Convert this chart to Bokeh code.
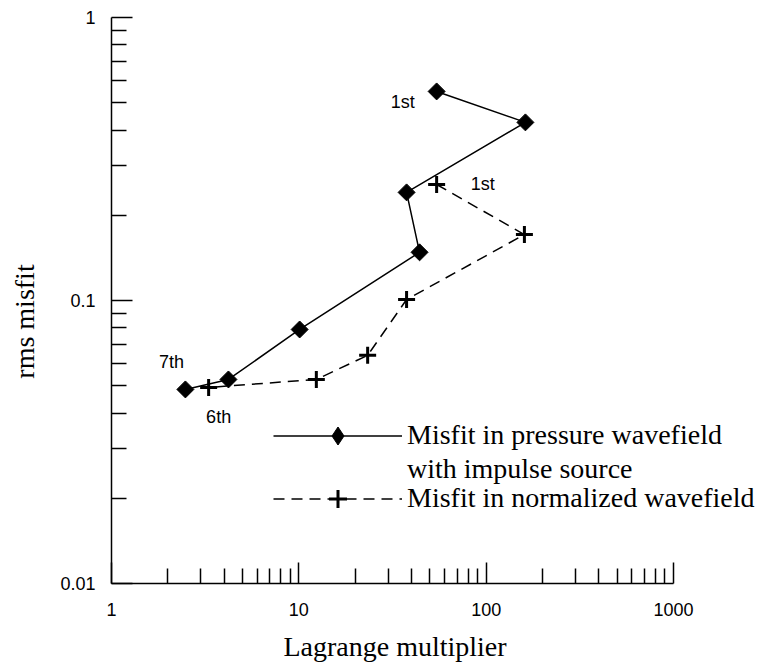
import math
from bokeh.plotting import figure
from bokeh.models import Range1d, FixedTicker, CustomJSTickFormatter, Legend, LegendItem, Label
from bokeh.embed import file_html
from bokeh.resources import INLINE

# Data
lam_pressure = [54.4, 162, 37.6, 44.1, 10.1, 4.21, 2.48]
misfit_pressure = [0.548, 0.426, 0.241, 0.148, 0.079, 0.0526, 0.0485]
lam_norm = [54.4, 160, 37.6, 23.3, 12.4, 3.3]
misfit_norm = [0.257, 0.171, 0.1008, 0.064, 0.0526, 0.0493]

x_major = [1, 10, 100, 1000]
x_minor = [m * d for d in (1, 10, 100) for m in range(2, 10)]
y_major = [0.01, 0.1, 1]
y_minor = [m * d for d in (0.01, 0.1) for m in range(2, 10)]

label_pressure_1 = "Misfit in pressure wavefield"
label_pressure_2 = "with impulse source"
label_norm = "Misfit in normalized wavefield"
x_title = "Lagrange multiplier"
y_title = "rms misfit"

NB = "\u00a0"

# layout: axis spans 562 px for 3 decades; frame extends further right to hold the legend
axis_px = 562
extra_px = 89
x_max = 1000 * 10 ** (extra_px / (axis_px / 3))

p = figure(x_axis_type="log", y_axis_type="log",
           x_range=Range1d(1, x_max), y_range=Range1d(0.01, 1),
           frame_width=axis_px + extra_px, frame_height=566,
           min_border_left=111, min_border_top=17, min_border_right=0, min_border_bottom=80,
           output_backend="svg", toolbar_location=None)
p.outline_line_color = None
p.grid.visible = False

fmt = CustomJSTickFormatter(code="return tick.toString();")
p.xaxis.ticker = FixedTicker(ticks=x_major, minor_ticks=x_minor)
p.yaxis.ticker = FixedTicker(ticks=y_major, minor_ticks=y_minor)
p.xaxis.bounds = (1, 1000)
for ax in (p.xaxis[0], p.yaxis[0]):
    ax.formatter = fmt
    ax.major_tick_in = 21
    ax.major_tick_out = 0
    ax.minor_tick_in = 15
    ax.minor_tick_out = 0
    ax.axis_line_width = 1.5
    ax.major_tick_line_width = 1.5
    ax.minor_tick_line_width = 1.5
    ax.axis_line_color = "black"
    ax.major_tick_line_color = "black"
    ax.minor_tick_line_color = "black"
    ax.major_label_text_font = "Liberation Sans"
    ax.major_label_text_font_size = "18px"
    ax.major_label_text_color = "black"
    ax.axis_label_text_font = "Liberation Serif"
    ax.axis_label_text_font_size = "28px"
    ax.axis_label_text_font_style = "normal"
    ax.axis_label_text_color = "black"

# padding with no-break spaces shifts the centred titles to where the reference has them
p.xaxis.axis_label = x_title + NB * 12
p.yaxis.axis_label = y_title + NB * 6
p.xaxis.major_label_standoff = 19
p.yaxis.major_label_standoff = 16
p.xaxis.axis_label_standoff = 12
p.yaxis.axis_label_standoff = 17

l1 = p.line(lam_pressure, misfit_pressure, line_color="black", line_width=1.5)
s1 = p.scatter(lam_pressure, misfit_pressure, marker="square", angle=math.pi / 4,
               size=12, fill_color="black", line_color="black")
l2 = p.line(lam_norm, misfit_norm, line_color="black", line_width=1.5, line_dash="11 7")
s2 = p.scatter(lam_norm, misfit_norm, marker="cross", size=17,
               line_color="black", line_width=3)
# legend-only glyphs (drawn at zero size in the plot)
leg_diamond = p.scatter(lam_pressure, misfit_pressure, marker="diamond", size=0,
                        fill_color="black", line_color="black")
dummy = p.line(lam_pressure, misfit_pressure, line_alpha=0)

common = dict(glyph_width=129, glyph_height=45, label_height=30,
              spacing=0, padding=0, margin=0, label_standoff=5,
              border_line_color=None, background_fill_alpha=0,
              label_text_font="Liberation Serif", label_text_font_size="28px",
              label_text_color="black")
frame_bottom = 583
def row_y(center):
    return frame_bottom - (center + 22.5)

p.add_layout(Legend(items=[LegendItem(label=label_pressure_1, renderers=[l1, leg_diamond])],
                    location=(162, row_y(435)), **common))
p.add_layout(Legend(items=[LegendItem(label=label_pressure_2, renderers=[dummy])],
                    location=(162, row_y(469)), **common))
p.add_layout(Legend(items=[LegendItem(label=label_norm, renderers=[l2, s2])],
                    location=(162, row_y(498)), **common))

lab_font = "Liberation Sans"
def add_label(x, y, text, dx, dy):
    p.add_layout(Label(x=x, y=y, text=text, x_offset=dx, y_offset=dy,
                       text_align="center", text_baseline="middle",
                       text_font=lab_font, text_font_size="18px", text_color="black"))

add_label(lam_pressure[0], misfit_pressure[0], "1st", -34, -11)
add_label(lam_norm[0], misfit_norm[0], "1st", 46, 0)
add_label(lam_pressure[-1], misfit_pressure[-1], "7th", -14, 27)
add_label(lam_norm[-1], misfit_norm[-1], "6th", 10, -30)

open("out.html", "w").write(file_html(p, INLINE))
